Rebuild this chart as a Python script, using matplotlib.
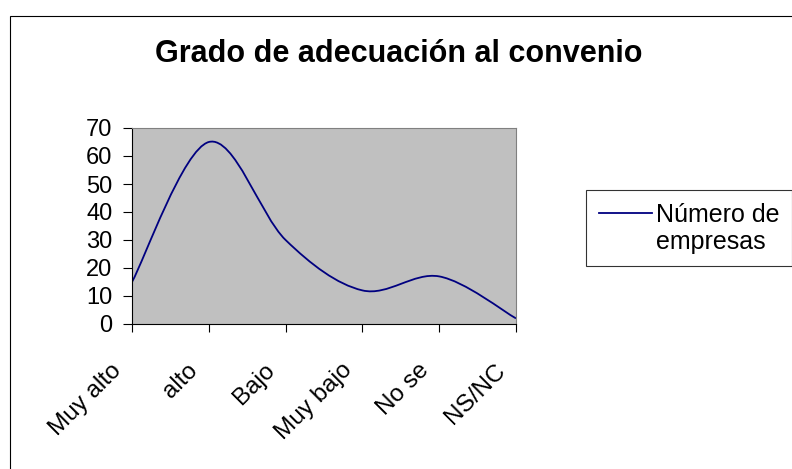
import matplotlib
matplotlib.use("Agg")
import matplotlib.pyplot as plt
from matplotlib.path import Path
from matplotlib.patches import PathPatch, Rectangle
from matplotlib.lines import Line2D
import matplotlib.transforms as mtransforms

plt.rcParams['font.family'] = ['Liberation Sans', 'DejaVu Sans']

categories = ["Muy alto", "alto", "Bajo", "Muy bajo", "No se", "NS/NC"]
values = [15, 65, 30, 12, 17, 2]
series_name = ["Número de", "empresas"]
title = "Grado de adecuación al convenio"
yticks = [0, 10, 20, 30, 40, 50, 60, 70]

W, H = 792, 469
fig = plt.figure(figsize=(W / 100, H / 100), dpi=100)
fig.patch.set_facecolor("white")

# chart area border
fig.patches.append(Rectangle((10 / W, -0.1), 1.0, 1 - 16 / H + 0.1, transform=fig.transFigure,
                             fill=False, edgecolor="black", linewidth=0.8))

ax = fig.add_axes([132 / W, 1 - 324 / H, (516 - 132) / W, (324 - 128) / H])
ax.set_facecolor("#C0C0C0")
ax.set_xlim(0, len(categories) - 1)
ax.set_ylim(0, 70)
for s in ("top", "right"):
    ax.spines[s].set_color("#808080")
for s in ("left", "bottom"):
    ax.spines[s].set_color("black")
ax.set_yticks(yticks)
ax.set_xticks(range(len(categories)))
ax.set_xticklabels(categories, rotation=45, ha="right", va="center", rotation_mode="anchor")
ax.tick_params(axis="y", direction="out", length=6.5, width=0.8, labelsize=17, pad=7.5)
ax.tick_params(axis="x", direction="out", length=6, width=0.8, labelsize=17.5, pad=25)
off = mtransforms.ScaledTranslation(-14 / 100, 0, fig.dpi_scale_trans)
for lab in ax.get_xticklabels():
    lab.set_transform(lab.get_transform() + off)

# smoothed line (Catmull-Rom style Bezier through data points)
xs = list(range(len(values)))
pts = list(zip(xs, values))
verts = [pts[0]]
codes = [Path.MOVETO]
n = len(pts)
for i in range(n - 1):
    p0 = pts[i - 1] if i > 0 else pts[i]
    p1 = pts[i]
    p2 = pts[i + 1]
    p3 = pts[i + 2] if i + 2 < n else pts[i + 1]
    c1 = (p1[0] + (p2[0] - p0[0]) / 6, p1[1] + (p2[1] - p0[1]) / 6)
    c2 = (p2[0] - (p3[0] - p1[0]) / 6, p2[1] - (p3[1] - p1[1]) / 6)
    verts += [c1, c2, p2]
    codes += [Path.CURVE4] * 3
patch = PathPatch(Path(verts, codes), fill=False, edgecolor="#000080", linewidth=1.3,
                  transform=ax.transData)
ax.add_patch(patch)

fig.text(399 / W, 1 - 62 / H, title, ha="center", va="baseline", fontsize=22, fontweight="bold")

handle = Line2D([], [], color="#000080", linewidth=1.3)
blank = Line2D([], [], alpha=0)
leg = fig.legend([handle, blank], series_name, loc="upper left",
                 bbox_to_anchor=(586 / W, 1 - 190 / H), bbox_transform=fig.transFigure,
                 fontsize=18, frameon=True, fancybox=False, shadow=False,
                 handlelength=2.15, handletextpad=0.15, borderpad=0.5, labelspacing=0.12,
                 borderaxespad=0)
leg.get_frame().set_edgecolor("black")
leg.get_frame().set_linewidth(0.8)

fig.savefig("out.png", dpi=100)
